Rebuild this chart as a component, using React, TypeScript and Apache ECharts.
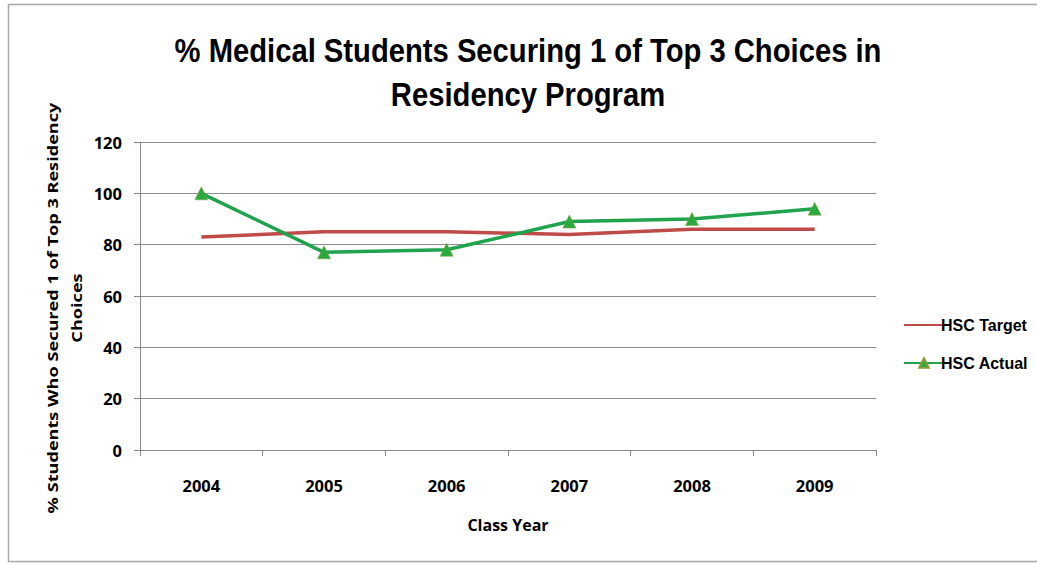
import React, { useEffect, useRef } from "react";
import * as echarts from "echarts";

const categories = ["2004", "2005", "2006", "2007", "2008", "2009"];
const targetValues = [83, 85, 85, 84, 86, 86];
const actualValues = [100, 77, 78, 89, 90, 94];
const yTicks = { min: 0, max: 120, interval: 20 };
const titleLines = ["% Medical Students Securing 1 of Top 3 Choices in", "Residency Program"];
const yName = "% Students Who Secured 1 of Top 3 Residency\nChoices";
const xName = "Class Year";

const TITLE_FONT = "'Liberation Sans', Arial, sans-serif";
const BODY = "'Open Sans', 'DejaVu Sans', sans-serif";

export default function App() {
  const ref = useRef<HTMLDivElement>(null);
  useEffect(() => {
    document.body.style.margin = "0";
    const chart = echarts.init(ref.current!, null, { renderer: "svg" });
    chart.setOption({
      animation: false,
      backgroundColor: "#ffffff",
      graphic: [
        {
          type: "rect",
          shape: { x: 8.5, y: 4.5, width: 1040, height: 557 },
          style: { fill: "none", stroke: "#a8a8a8", lineWidth: 1.5 },
          silent: true,
        },
        {
          type: "text",
          x: 528,
          y: 51,
          scaleX: 0.885,
          style: {
            text: titleLines[0],
            fontFamily: TITLE_FONT,
            fontWeight: "bold",
            fontSize: 33,
            align: "center",
            verticalAlign: "middle",
            fill: "#000",
          },
        },
        {
          type: "text",
          x: 528,
          y: 95,
          scaleX: 0.885,
          style: {
            text: titleLines[1],
            fontFamily: TITLE_FONT,
            fontWeight: "bold",
            fontSize: 33,
            align: "center",
            verticalAlign: "middle",
            fill: "#000",
          },
        },
        {
          type: "text",
          x: 64,
          y: 308,
          rotation: Math.PI / 2,
          scaleX: 1.21,
          style: {
            text: yName,
            fontFamily: BODY,
            fontWeight: "bold",
            fontSize: 15,
            lineHeight: 24,
            align: "center",
            verticalAlign: "middle",
            fill: "#000",
          },
        },
      ],
      legend: {
        orient: "vertical",
        left: 898,
        top: 312,
        itemWidth: 40,
        itemHeight: 12,
        itemGap: 22,
        textStyle: { fontFamily: TITLE_FONT, fontWeight: "bold", fontSize: 16, color: "#000", padding: [0, 0, 0, -8] },
        data: [
          { name: "HSC Target", itemStyle: { opacity: 0 } },
          { name: "HSC Actual" },
        ],
      },
      grid: { left: 140, right: 161, top: 142, bottom: 114, containLabel: false },
      xAxis: {
        type: "category",
        data: categories,
        boundaryGap: true,
        name: xName,
        nameLocation: "middle",
        nameGap: 67,
        nameTextStyle: { fontFamily: BODY, fontWeight: "bold", fontSize: 16, color: "#000" },
        axisLine: { lineStyle: { color: "#888", width: 1 } },
        axisTick: { show: true, alignWithLabel: false, length: 6, lineStyle: { color: "#888" } },
        axisLabel: { margin: 27, fontFamily: BODY, fontWeight: "bold", fontSize: 16.5, color: "#000" },
        splitLine: { show: false },
      },
      yAxis: {
        type: "value",
        min: yTicks.min,
        max: yTicks.max,
        interval: yTicks.interval,
        axisLine: { show: true, lineStyle: { color: "#888", width: 1 } },
        axisTick: { show: true, length: 6, lineStyle: { color: "#888" } },
        axisLabel: { margin: 18, fontFamily: BODY, fontWeight: "bold", fontSize: 16.5, color: "#000" },
        splitLine: { show: true, lineStyle: { color: "#8c8c8c", width: 1 } },
      },
      series: [
        {
          name: "HSC Target",
          type: "line",
          data: targetValues,
          symbol: "none",
          lineStyle: { color: "#be4b48", width: 3.5 },
          itemStyle: { color: "#be4b48" },
        },
        {
          name: "HSC Actual",
          type: "line",
          data: actualValues,
          symbol: "triangle",
          symbolSize: 13,
          lineStyle: { color: "#1fa34c", width: 3.5 },
          itemStyle: { color: "#2aaa3e", borderColor: "#8a9a3a", borderWidth: 0.5 },
        },
      ],
    });
    return () => chart.dispose();
  }, []);
  return <div ref={ref} style={{ width: 1037, height: 564 }} />;
}
